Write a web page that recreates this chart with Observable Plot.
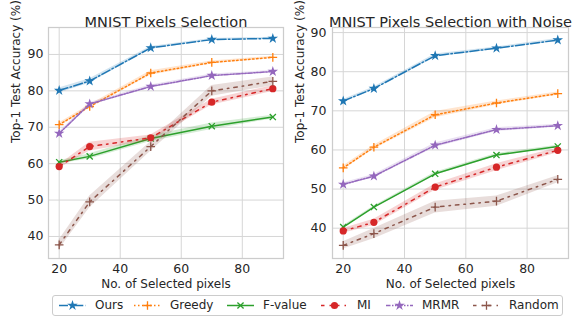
<!DOCTYPE html>
<html><head><meta charset="utf-8">
<script src="https://cdn.jsdelivr.net/npm/d3@7"></script>
<script src="https://cdn.jsdelivr.net/npm/@observablehq/plot@0.6"></script>
<style>
body{margin:0;background:#fff;font-family:"DejaVu Sans",sans-serif;}
#wrap{position:relative;width:574px;height:316px;overflow:hidden;background:#fff;}
#left{position:absolute;left:0;top:0;}
#right{position:absolute;left:285px;top:0;}
#legend{position:absolute;left:52px;top:295px;width:511px;height:21px;border:1px solid #cccccc;border-radius:3px;box-sizing:border-box;background:#fff;}
.h{position:absolute;top:3px;}
.t{position:absolute;top:0;line-height:19px;font-size:12px;color:#262626;white-space:nowrap;}
</style></head><body>
<div id="wrap"><div id="left"></div><div id="right"></div><div id="legend"></div></div>
<script>
// ---- data ----
const xs = [20, 30, 50, 70, 90];
const xTicks = [20, 40, 60, 80];
const yTicks = [40, 50, 60, 70, 80, 90];
const methods = ["Ours", "Greedy", "F-value", "MI", "MRMR", "Random"];
const colors = ["#1f77b4", "#ff7f0e", "#2ca02c", "#d62728", "#9467bd", "#8c564b"];
const symbols = ["star", "plus", "times", "circle", "star", "plus"];
const dashes = ["9,2.4,1.5,2.4", "1.5,2.5", "none", "3.5,5,1.5,5", "4.5,1.5,1.5,1.5,1.5,1.5", "3.5,5,1.5,5"];

const leftTitle = "MNIST Pixels Selection";
const leftOurs   = [80.1, 82.7, 91.8, 94.1, 94.4];
const leftGreedy = [70.7, 75.7, 84.9, 87.8, 89.2];
const leftFvalue = [60.4, 62.0, 66.9, 70.3, 72.8];
const leftMI     = [59.2, 64.7, 67.1, 76.9, 80.6];
const leftMRMR   = [68.3, 76.4, 81.2, 84.2, 85.3];
const leftRandom = [37.7, 49.5, 64.7, 80.0, 82.6];
const leftOursSd   = [0.7, 0.6, 0.4, 0.3, 0.3];
const leftGreedySd = [0.5, 0.5, 0.6, 0.4, 0.3];
const leftFvalueSd = [0.4, 0.7, 0.8, 0.9, 0.5];
const leftMISd     = [0.5, 1.2, 0.8, 0.8, 0.8];
const leftMRMRSd   = [0.4, 0.4, 0.4, 0.4, 0.3];
const leftRandomSd = [1.3, 1.6, 1.3, 1.5, 1.2];

const rightTitle = "MNIST Pixels Selection with Noise";
const rightOurs   = [72.5, 75.7, 84.1, 86.0, 88.1];
const rightGreedy = [55.4, 60.7, 69.0, 72.0, 74.4];
const rightFvalue = [40.3, 45.4, 53.9, 58.7, 60.9];
const rightMI     = [39.3, 41.5, 50.5, 55.6, 59.9];
const rightMRMR   = [51.2, 53.3, 61.2, 65.2, 66.2];
const rightRandom = [35.6, 38.6, 45.4, 46.9, 52.5];
const rightOursSd   = [0.4, 0.4, 0.4, 0.3, 0.4];
const rightGreedySd = [0.5, 0.5, 0.8, 0.5, 0.4];
const rightFvalueSd = [0.3, 0.3, 0.4, 0.4, 0.3];
const rightMISd     = [0.6, 0.8, 0.8, 0.9, 0.6];
const rightMRMRSd   = [0.4, 0.4, 0.6, 0.5, 0.4];
const rightRandomSd = [0.9, 1.3, 1.5, 1.3, 0.9];

const xLabel = "No. of Selected pixels";
const yLabel = "Top-1 Test Accuracy (%)";

// ---- drawing ----
const textColor = "#262626";
const gridColor = "#d6d6d6";

function markerR(sym) {
  if (sym === "plus" || sym === "times") return 2.9;
  if (sym === "circle") return 3.6;
  return 3.3;
}

function seriesMarks(vals, sds) {
  const marks = [];
  methods.forEach((m, i) => {
    const rows = xs.map((x, j) => ({x, y: vals[i][j], lo: vals[i][j] - sds[i][j], hi: vals[i][j] + sds[i][j]}));
    marks.push(Plot.areaY(rows, {x: "x", y1: "lo", y2: "hi", fill: colors[i], fillOpacity: 0.2}));
    marks.push(Plot.line(rows, {x: "x", y: "y", stroke: colors[i], strokeWidth: 1.5, strokeDasharray: dashes[i]}));
    const sym = symbols[i];
    const stroked = sym === "plus" || sym === "times";
    marks.push(Plot.dot(rows, stroked
      ? {x: "x", y: "y", symbol: sym, r: markerR(sym), stroke: colors[i], strokeWidth: 1.3, fill: "none"}
      : {x: "x", y: "y", symbol: sym, r: markerR(sym), fill: colors[i], stroke: "none"}));
  });
  return marks;
}

function chart({width, marginLeft, marginRight, yDomain, title, vals, sds, yPad, yLabelDx}) {
  return Plot.plot({
    width, height: 295,
    marginLeft, marginRight, marginTop: 27, marginBottom: 37,
    x: {domain: [16.5, 93.5]},
    y: {domain: yDomain},
    style: {fontFamily: "DejaVu Sans", fontSize: "12.5px", color: textColor, background: "transparent"},
    marks: [
      Plot.gridX({ticks: xTicks, stroke: gridColor, strokeOpacity: 1, strokeWidth: 1}),
      Plot.gridY({ticks: yTicks, stroke: gridColor, strokeOpacity: 1, strokeWidth: 1}),
      ...seriesMarks(vals, sds),
      Plot.frame({stroke: "#cccccc", strokeWidth: 1.25}),
      Plot.axisX({ticks: xTicks, tickSize: 0, tickPadding: 6, label: null, fontSize: 12.5, fill: textColor}),
      Plot.axisY({ticks: yTicks, tickSize: 0, tickPadding: yPad, label: null, fontSize: 12.5, fill: textColor}),
      Plot.text([title], {frameAnchor: "top", dy: -11, fontSize: 14.5, fill: textColor}),
      Plot.text([xLabel], {frameAnchor: "bottom", dy: 29, fontSize: 12, fill: textColor}),
      Plot.text([yLabel], {frameAnchor: "left", rotate: -90, dx: yLabelDx, fontSize: 12, fill: textColor})
    ]
  });
}

document.getElementById("left").appendChild(chart({
  width: 290, marginLeft: 48, marginRight: 7, yDomain: [33.95, 97.4], title: leftTitle,
  vals: [leftOurs, leftGreedy, leftFvalue, leftMI, leftMRMR, leftRandom],
  sds: [leftOursSd, leftGreedySd, leftFvalueSd, leftMISd, leftMRMRSd, leftRandomSd],
  yPad: 5, yLabelDx: -32
}));
document.getElementById("right").appendChild(chart({
  width: 289, marginLeft: 47, marginRight: 6, yDomain: [32.25, 91.3], title: rightTitle,
  vals: [rightOurs, rightGreedy, rightFvalue, rightMI, rightMRMR, rightRandom],
  sds: [rightOursSd, rightGreedySd, rightFvalueSd, rightMISd, rightMRMRSd, rightRandomSd],
  yPad: 6, yLabelDx: -32
}));

// ---- legend ----
const legendTextX = [95, 170, 263, 357, 422, 509];
const legend = d3.select("#legend");
methods.forEach((m, i) => {
  const tx = legendTextX[i] - 53;
  const hx = tx - 36;
  const svg = legend.append("svg").attr("class", "h").attr("width", 27).attr("height", 13)
    .style("left", hx + "px");
  svg.append("line").attr("x1", 0).attr("x2", 27).attr("y1", 6.5).attr("y2", 6.5)
    .attr("stroke", colors[i]).attr("stroke-width", 1.5).attr("stroke-dasharray", dashes[i]);
  const stroked = symbols[i] === "plus" || symbols[i] === "times";
  const symType = {star: d3.symbolStar, plus: d3.symbolPlus, times: d3.symbolTimes, circle: d3.symbolCircle}[symbols[i]];
  const rr = markerR(symbols[i]);
  svg.append("path").attr("transform", "translate(13.5,6.5)")
    .attr("d", d3.symbol(symType, Math.PI * rr * rr)())
    .attr("fill", stroked ? "none" : colors[i])
    .attr("stroke", stroked ? colors[i] : "none")
    .attr("stroke-width", 1.3);
  legend.append("div").attr("class", "t").style("left", tx + "px").text(m);
});
</script>
</body></html>
